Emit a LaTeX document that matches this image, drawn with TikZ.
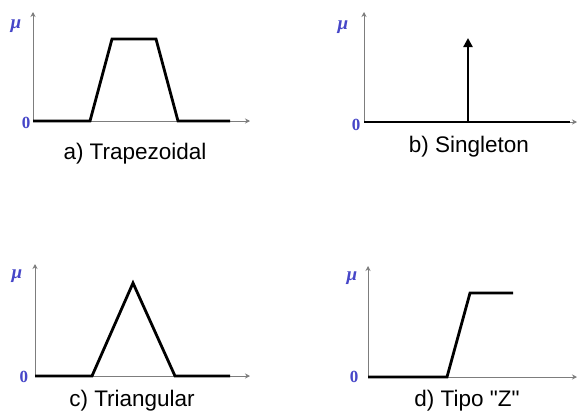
\documentclass[tikz,border=0pt]{standalone}
\usepackage{fontspec}
\setmainfont[Ligatures=TeXOff]{Liberation Sans}
\newfontfamily\lblfont{Liberation Serif}
\usetikzlibrary{arrows.meta}
\definecolor{lbl}{RGB}{70,70,200}
\definecolor{axisgray}{RGB}{125,125,125}
\tikzset{
 axisline/.style={draw=axisgray, line width=0.9pt, -{Stealth[length=5pt,width=5pt]}},
 fline/.style={draw=black, line width=2.8pt, line join=miter},
 spike/.style={draw=black, line width=2.8pt, -{Triangle[length=9pt,width=9pt]}},
 caption/.style={font=\fontsize{22.5}{24}\selectfont, inner sep=0pt, anchor=base},
 mulbl/.style={text=lbl, font=\fontsize{19}{20}\selectfont\lblfont\bfseries\itshape, inner sep=0pt},
 zerolbl/.style={text=lbl, font=\fontsize{17}{18}\selectfont\lblfont\bfseries, inner sep=0pt},
}
\begin{document}
\begin{tikzpicture}[x=1pt,y=-1pt]
\useasboundingbox[fill=white] (0,0) rectangle (577,413);
% ---------- a) Trapezoidal
\coordinate (ao) at (33,121);
\coordinate (ay) at (33,12);
\coordinate (ax) at (250,121);
\coordinate (a1) at (90,121);
\coordinate (a2) at (112,39);
\coordinate (a3) at (156,39);
\coordinate (a4) at (178,121);
\coordinate (a5) at (230,121);
\draw[axisline] (ao) -- (ay);
\draw[axisline] (ao) -- (ax);
\draw[fline] (ao) -- (a1) -- (a2) -- (a3) -- (a4) -- (a5);
\node[mulbl] (amu) at (16,26) {μ};
\node[zerolbl] (azero) at (26,123) {0};
\node[caption] (acap) at (135,159) {a) Trapezoidal};
% ---------- b) Singleton
\coordinate (bo) at (364,122);
\coordinate (by) at (364,12);
\coordinate (bx) at (577,122);
\coordinate (b1) at (468,122);
\coordinate (b2) at (468,38);
\coordinate (b3) at (570,122);
\draw[axisline] (bo) -- (by);
\draw[axisline] (bo) -- (bx);
\draw[fline] (bo) -- (b3);
\draw[spike] (b1) -- (b2);
\node[mulbl] (bmu) at (343,27) {μ};
\node[zerolbl] (bzero) at (356,125) {0};
\node[caption] (bcap) at (469,152) {b) Singleton};
% ---------- c) Triangular
\coordinate (co) at (35,376);
\coordinate (cy) at (35,264);
\coordinate (cx) at (250,376);
\coordinate (c1) at (92,376);
\coordinate (c2) at (133,283);
\coordinate (c3) at (175,376);
\coordinate (c4) at (230,376);
\draw[axisline] (co) -- (cy);
\draw[axisline] (co) -- (cx);
\draw[fline] (co) -- (c1) -- (c2) -- (c3) -- (c4);
\node[mulbl] (cmu) at (17,276) {μ};
\node[zerolbl] (czero) at (24,377) {0};
\node[caption] (ccap) at (132,406) {c) Triangular};
% ---------- d) Tipo "Z"
\coordinate (do) at (368,377);
\coordinate (dy) at (368,266);
\coordinate (dx) at (577,377);
\coordinate (d1) at (447,377);
\coordinate (d2) at (470,293);
\coordinate (d3) at (513,293);
\draw[axisline] (do) -- (dy);
\draw[axisline] (do) -- (dx);
\draw[fline] (do) -- (d1) -- (d2) -- (d3);
\node[mulbl] (dmu) at (352,278) {μ};
\node[zerolbl] (dzero) at (354,377) {0};
\node[caption] (dcap) at (467,406) {d) Tipo "Z"};
\end{tikzpicture}
\end{document}
